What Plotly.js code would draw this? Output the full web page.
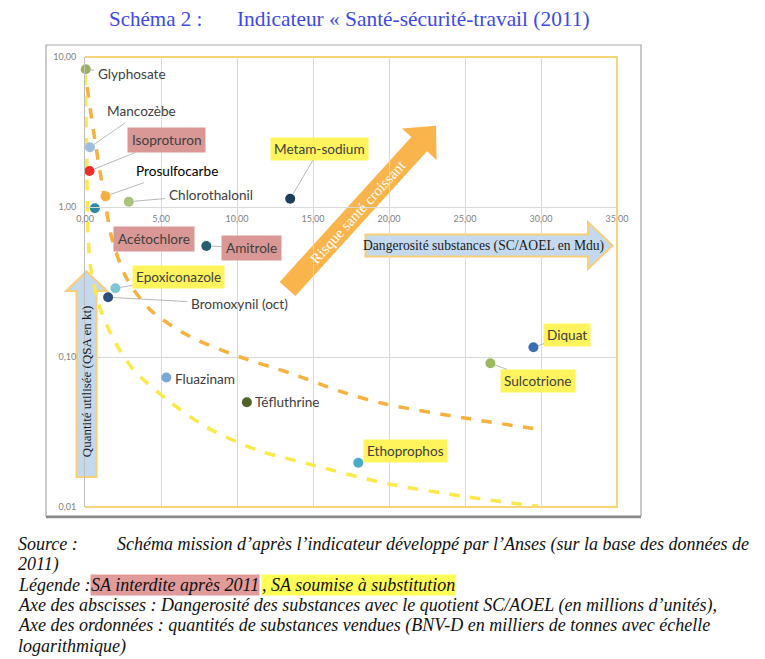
<!DOCTYPE html>
<html><head><meta charset="utf-8">
<script src="https://cdn.plot.ly/plotly-3.0.1.min.js"></script>
<style>html,body{margin:0;padding:0;background:#fff;}#chart{width:765px;height:659px;}</style>
</head><body><div id="chart"></div>
<script>
// ---------- DATA ----------
const substances = ['Glyphosate','Mancozèbe','Isoproturon','Prosulfocarbe','Chlorothalonil','Metam-sodium','Acétochlore','Amitrole','Epoxiconazole','Bromoxynil (oct)','Fluazinam','Téfluthrine','Diquat','Sulcotrione','Ethoprophos'];
const dangerosite = [0.05, 0.32, 0.30, 1.35, 2.88, 13.5, 0.65, 7.98, 2.0, 1.52, 5.35, 10.65, 29.5, 26.67, 17.98];
const quantite = [8.28, 2.50, 1.74, 1.18, 1.085, 1.136, 0.98, 0.55, 0.287, 0.25, 0.073, 0.0499, 0.116, 0.0908, 0.0197];
const statut = ['', '', 'interdite', '', '', 'substitution', 'interdite', 'interdite', 'substitution', '', '', '', 'substitution', 'substitution', 'substitution'];
const pointColors = ['#9bb15e','#9dbfdf','#ee2b24','#f6ae3e','#abc27e','#1e3d5c','#2f8aa6','#255e6e','#80c5d6','#2c4d7a','#7ba7d4','#4f6228','#3d6eb1','#9bba5f','#4aacc6'];

const courbeHauteX = [0.14, 0.58, 1.23, 1.8, 2.77, 4.3, 6.9, 10.2, 13.5, 16.8, 19.6, 25.1, 30.1];
const courbeHauteY = [6.3, 3.1, 1.23, 0.6, 0.33, 0.206, 0.137, 0.1, 0.078, 0.059, 0.049, 0.039, 0.0327];
const courbeBasseX = [0.03, 0.1, 0.22, 0.36, 1.0, 1.9, 3.2, 5.4, 8.0, 11.3, 14.6, 19.6, 25.1, 29.8];
const courbeBasseY = [7.6, 2.4, 0.6, 0.4, 0.21, 0.13, 0.082, 0.052, 0.034, 0.024, 0.0195, 0.0145, 0.0117, 0.0101];

const xTickVals = [0, 5, 10, 15, 20, 25, 30, 35];
const xTickText = ['0,00','5,00','10,00','15,00','20,00','25,00','30,00','35,00'];
const yTickVals = [0.01, 0.1, 1, 10];
const yTickText = ['0,01','0,10','1,00','10,00'];

const titre1 = 'Schéma 2 :';
const titre2 = 'Indicateur « Santé-sécurité-travail (2011)';
const axeXTexte = 'Dangerosité substances (SC/AOEL en Mdu)';
const axeYTexte = 'Quantité utilisée (QSA en kt)';
const risqueTexte = 'Risque santé croissant';

// ---------- LAYOUT HELPERS ----------
const W = 765, H = 659, L = 85, R = 148, T = 57, B = 152;
const pw = W - L - R, ph = H - T - B;
const px = v => (v - L) / pw;
const py = v => (H - B - v) / ph;
const pathFrom = pts => 'M' + pts.map(p => px(p[0]).toFixed(5) + ',' + py(p[1]).toFixed(5)).join(' L') + ' Z';

// label offsets (pixels, label centre relative to point) and leader flag
const labelLayout = [
  [46, 5, true], [52, -36, true], [77, -31, true], [71, -25, true], [82, -7, true],
  [29.5, -50, true], [59, 31, true], [45.5, 2, true], [63, -11, true], [131, 7, true],
  [38.5, 1, false], [41, 0, false], [34, -12, true], [48, 17.5, true], [47, -12, true]
];
const boxColor = { 'interdite': '#d99795', 'substitution': '#fff45c', '': 'rgba(0,0,0,0)' };
const labelFont = 'Lato, "Open Sans", sans-serif';
const serif = '"Liberation Serif", "DejaVu Serif", serif';

const traces = [
  { x: courbeHauteX, y: courbeHauteY, mode: 'lines', type: 'scatter', line: { color: '#f6b13f', width: 3.5, dash: 'dash', shape: 'spline', smoothing: 0.8 }, hoverinfo: 'skip' },
  { x: courbeBasseX, y: courbeBasseY, mode: 'lines', type: 'scatter', line: { color: '#fbe94a', width: 3.5, dash: 'dash', shape: 'spline', smoothing: 0.8 }, hoverinfo: 'skip' },
  { x: dangerosite, y: quantite, mode: 'markers', type: 'scatter', text: substances, marker: { size: 10, color: pointColors }, cliponaxis: false }
];

const annotations = substances.map((name, i) => ({
  x: dangerosite[i], y: Math.log10(quantite[i]), xref: 'x', yref: 'y',
  text: name, showarrow: true, arrowhead: 0, arrowwidth: 0.8,
  arrowcolor: labelLayout[i][2] ? '#a6a6a6' : 'rgba(0,0,0,0)',
  ax: labelLayout[i][0], ay: labelLayout[i][1], standoff: 5,
  bgcolor: boxColor[statut[i]], borderpad: statut[i] === 'interdite' ? 4 : 3,
  font: { family: labelFont, size: 13.6, color: name === 'Prosulfocarbe' ? '#000000' : '#404040' }
}));

annotations.push(
  { xref: 'paper', yref: 'paper', x: px(107), y: py(19), xanchor: 'left', yanchor: 'middle', showarrow: false, text: titre1, font: { family: serif, size: 21, color: '#3d4ae6' } },
  { xref: 'paper', yref: 'paper', x: px(235), y: py(19), xanchor: 'left', yanchor: 'middle', showarrow: false, text: titre2, font: { family: serif, size: 21.4, color: '#3d4ae6' } },
  { xref: 'paper', yref: 'paper', x: px(86.5), y: py(381.7), xanchor: 'center', yanchor: 'middle', showarrow: false, textangle: -90, text: axeYTexte, font: { family: serif, size: 13, color: '#1a1a1a' } },
  { xref: 'paper', yref: 'paper', x: px(483), y: py(246), xanchor: 'center', yanchor: 'middle', showarrow: false, text: axeXTexte, font: { family: serif, size: 13.6, color: '#1a1a1a' } },
  { xref: 'paper', yref: 'paper', x: px(358), y: py(212), xanchor: 'center', yanchor: 'middle', showarrow: false, textangle: -47.8, text: risqueTexte, font: { family: serif, size: 15, color: '#ffffff' } }
);

const foot = { family: serif, size: 18, color: '#111111' };
const footLines = [
  [17, 544, '<i>Source :</i>', null],
  [116, 544, '<i>Schéma mission d’après l’indicateur développé par l’Anses (sur la base des données de</i>', null],
  [17, 564.5, '<i>2011)</i>', null],
  [17, 584.5, '<i>Légende :</i>', null],
  [90, 584.5, '<i>SA interdite après 2011</i>', '#e29b9b'],
  [261, 584.5, '<i>, SA soumise à substitution</i>', '#ffff55'],
  [17, 605, '<i>Axe des abscisses : Dangerosité des substances avec le quotient SC/AOEL (en millions d’unités),</i>', null],
  [17, 625.5, '<i>Axe des ordonnées : quantités de substances vendues (BNV-D en milliers de tonnes avec échelle</i>', null],
  [17, 646, '<i>logarithmique)</i>', null]
];
footLines.forEach(f => annotations.push({ xref: 'paper', yref: 'paper', x: px(f[0]), y: py(f[1]), xanchor: 'left', yanchor: 'middle', showarrow: false, text: f[2], font: foot, bgcolor: f[3] || 'rgba(0,0,0,0)', borderpad: 0 }));

// decorative shapes
const u = [0.672, -0.740], n = [0.740, 0.672];
const Bm = [287.5, 289], Hm = [419.2, 144.2];
const add = (p, v, k) => [p[0] + v[0] * k, p[1] + v[1] * k];
const diag = [add(Bm, n, -10.6), add(Hm, n, -10.6), add(Hm, n, -23.5), add(Hm, u, 25), add(Hm, n, 23.5), add(Hm, n, 10.6), add(Bm, n, 10.6)];

const shapes = [
  { type: 'rect', xref: 'paper', yref: 'paper', x0: px(46), x1: px(641), y0: py(516), y1: py(45), line: { color: '#a6a6a6', width: 1.2 }, layer: 'below' },
  { type: 'line', xref: 'paper', yref: 'paper', x0: px(46), x1: px(641), y0: py(517), y1: py(517), line: { color: '#8a8a8a', width: 2.5 } },
  { type: 'path', xref: 'paper', yref: 'paper', path: 'M0,1 L1,1 L1,0 L0,0', line: { color: '#f5d47a', width: 2 }, layer: 'above' },
  { type: 'path', xref: 'paper', yref: 'paper', path: pathFrom([[66, 291], [76.5, 291], [76.5, 477], [96.5, 477], [96.5, 291], [107, 291], [86.5, 271.5]]), fillcolor: '#c5d9ee', line: { color: '#f6cf78', width: 2 }, layer: 'between' },
  { type: 'path', xref: 'paper', yref: 'paper', path: pathFrom([[365.5, 234.5], [588, 234.5], [588, 222], [612.5, 245.5], [588, 269], [588, 256.5], [365.5, 256.5]]), fillcolor: '#c5d9ee', line: { color: '#f6cf78', width: 2 }, layer: 'between' },
  { type: 'path', xref: 'paper', yref: 'paper', path: pathFrom(diag), fillcolor: '#f9b54c', line: { width: 0 }, layer: 'between' }
];

const layout = {
  width: W, height: H,
  margin: { l: L, r: R, t: T, b: B, pad: 0 },
  paper_bgcolor: '#ffffff', plot_bgcolor: '#ffffff',
  showlegend: false,
  xaxis: {
    range: [0, 35], tickvals: xTickVals, ticktext: xTickText,
    anchor: 'free', position: py(207), showgrid: true, gridcolor: '#d9d9d9', gridwidth: 1,
    zeroline: false, showline: true, linecolor: '#d9d9d9', linewidth: 1,
    ticks: 'outside', ticklen: 3, tickcolor: 'rgba(0,0,0,0)',
    tickfont: { family: labelFont, size: 9, color: '#7f7f7f' }, fixedrange: true
  },
  yaxis: {
    type: 'log', range: [-2, 1], tickvals: yTickVals, ticktext: yTickText,
    showgrid: true, gridcolor: '#d9d9d9', gridwidth: 1, zeroline: false,
    showline: true, linecolor: '#bfbfbf', linewidth: 1,
    ticks: 'outside', ticklen: 6, tickcolor: 'rgba(0,0,0,0)',
    tickfont: { family: labelFont, size: 9, color: '#7f7f7f' }, fixedrange: true
  },
  shapes: shapes,
  annotations: annotations
};

Plotly.newPlot('chart', traces, layout, { displayModeBar: false, staticPlot: true });
</script>
</body></html>
